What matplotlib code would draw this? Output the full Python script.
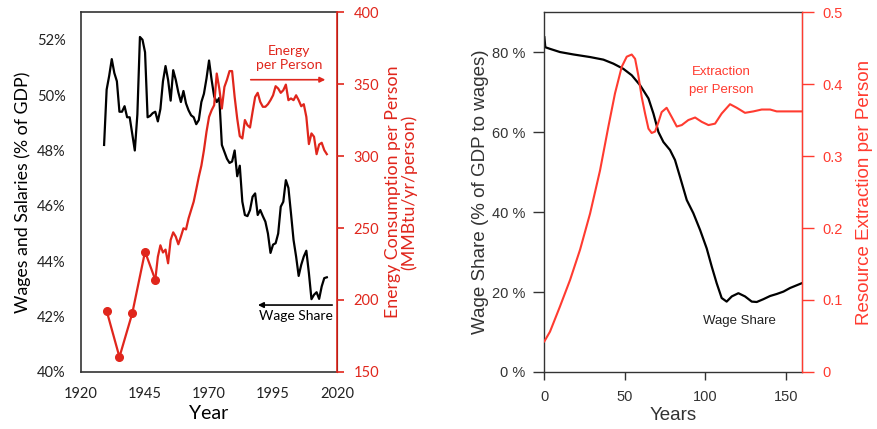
import matplotlib
matplotlib.use("Agg")
import matplotlib.pyplot as plt
from matplotlib.ticker import FuncFormatter

# --- historical panel: US wage share vs. energy use per person ---
years = list(range(1929, 2017))
wage_share = [
    48.2, 50.2, 50.7, 51.3, 50.8, 50.5, 49.4, 49.4, 49.6, 49.2,
    49.2, 48.6, 48.0, 49.3, 52.1, 52.0, 51.55, 49.2, 49.25, 49.35,
    49.4, 49.05, 49.5, 50.5, 51.05, 50.55, 49.8, 50.9, 50.55, 50.1,
    49.75, 50.15, 49.7, 49.45, 49.27, 49.2, 48.95, 49.1, 49.75, 50.05,
    50.6, 51.25, 50.55, 49.95, 49.75, 49.9, 48.2, 47.95, 47.7, 47.55,
    47.6, 48.0, 47.07, 47.45, 46.15, 45.67, 45.63, 45.85, 46.33, 46.45,
    45.67, 45.85, 45.63, 45.43, 45.0, 44.3, 44.6, 44.65, 45.0, 45.97,
    46.15, 46.93, 46.65, 45.73, 44.77, 44.17, 43.47, 43.87, 44.17, 44.38,
    43.57, 42.63, 42.79, 42.88, 42.64, 43.09, 43.39, 43.42,
]

# early estimates only every few years
energy_early_years = [1930, 1935, 1940, 1945, 1949]
energy_early = [192.5, 160.4, 190.7, 233.6, 214.0]

energy_years = list(range(1949, 2017))
energy = [
    214.0, 230.0, 238.0, 233.0, 235.0, 225.5, 241.7, 247.0, 244.0, 238.7,
    244.0, 249.8, 249.0, 256.7, 262.5, 268.3, 276.8, 285.6, 293.3, 304.0,
    316.8, 327.2, 331.8, 335.3, 357.3, 346.9, 333.0, 348.0, 353.0, 359.0,
    359.0, 341.0, 326.0, 313.8, 312.2, 325.0, 321.4, 319.8, 330.7, 341.0,
    343.9, 337.6, 334.2, 334.2, 336.0, 338.8, 342.2, 348.5, 346.9, 343.9,
    345.7, 349.6, 338.8, 340.0, 338.8, 342.2, 338.8, 334.6, 336.0, 327.2,
    308.3, 315.7, 313.4, 301.3, 308.0, 309.2, 304.1, 301.3,
]

# --- model panel: simulated wage share vs. resource extraction ---
model_t = [0, 0.6, 3.5, 9.7, 18, 28.4, 36.7, 42.9, 49.1, 54.3, 59.5, 64.7,
           67.8, 70.9, 74, 78.1, 81.2, 84.3, 88.5, 92.6, 96.8, 100.9, 104,
           107.1, 110.2, 113.3, 116.5, 120.6, 124.7, 128.9, 132, 136.1,
           140.3, 144.4, 148.6, 152.7, 160]
model_wage = [83.7, 81.2, 80.8, 80.0, 79.4, 78.75, 78.1, 77.1, 75.8, 74.2,
              71.7, 68.4, 64.6, 60.0, 57.5, 55.5, 53.0, 48.8, 43.0, 39.7,
              35.5, 30.9, 26.4, 22.2, 18.5, 17.6, 18.9, 19.7, 18.9, 17.6,
              17.5, 18.2, 19.0, 19.5, 20.1, 21.0, 22.2]

extract_t = [0, 3.5, 9.7, 16, 22.2, 28.4, 34.6, 39.8, 43.9, 48.1, 51.2,
             54.3, 56.4, 58.4, 60.5, 62.6, 64.7, 66.7, 68.8, 70.9, 72.9, 76,
             79.2, 82.3, 85.4, 89.5, 93.7, 97.8, 102, 106.1, 110.2, 115.4,
             119.6, 124.7, 129.9, 135.1, 140.3, 144.4, 150.6, 160]
extraction = [0.0425, 0.056, 0.091, 0.128, 0.170, 0.220, 0.280, 0.341,
              0.387, 0.424, 0.438, 0.441, 0.435, 0.412, 0.382, 0.359, 0.338,
              0.332, 0.334, 0.347, 0.361, 0.367, 0.354, 0.341, 0.343, 0.350,
              0.3535, 0.3475, 0.343, 0.345, 0.359, 0.372, 0.367, 0.360,
              0.362, 0.3646, 0.3646, 0.362, 0.362, 0.362]

RED = "#e0261c"
RED2 = "#ff3b30"
LEFT_FONT = "Lato"
RIGHT_FONT = "Liberation Sans"

fig = plt.figure(figsize=(8.78, 4.29), dpi=100)

# ---------------- left panel ----------------
ax1 = fig.add_axes([0.0923, 0.1329, 0.2916, 0.839])
ax1.plot(years, wage_share, color="black", lw=1.6)
ax1.set_xlim(1920, 2020)
ax1.set_ylim(40, 53)
ax1.set_xticks([1920, 1945, 1970, 1995, 2020])
ax1.set_yticks([40, 42, 44, 46, 48, 50, 52])
ax1.yaxis.set_major_formatter(FuncFormatter(lambda v, p: f"{v:.0f}%"))
ax1.tick_params(length=0, labelsize=10.5, colors="#222222")
ax1.tick_params(axis="x", pad=11)
ax1.tick_params(axis="y", pad=11)
for s in ["left", "top", "bottom"]:
    ax1.spines[s].set_color("#333333")
    ax1.spines[s].set_linewidth(1.2)
ax1.set_xlabel("Year", fontsize=14, family=LEFT_FONT, labelpad=3)
ax1.set_ylabel("Wages and Salaries (% of GDP)", fontsize=12.8, family=LEFT_FONT, labelpad=4)
for lab in ax1.get_xticklabels() + ax1.get_yticklabels():
    lab.set_family(LEFT_FONT)

ax1r = ax1.twinx()
ax1r.plot(energy_early_years, energy_early, color=RED, lw=1.6, marker="o", ms=5.5)
ax1r.plot(energy_years, energy, color=RED, lw=1.6)
ax1r.set_ylim(150, 400)
ax1r.set_yticks([150, 200, 250, 300, 350, 400])
ax1r.spines["right"].set_color(RED)
ax1r.spines["right"].set_linewidth(1.2)
for s in ["left", "top", "bottom"]:
    ax1r.spines[s].set_visible(False)
ax1r.tick_params(axis="y", colors=RED, length=5, width=1.2, labelsize=10.5, pad=7)
for lab in ax1r.get_yticklabels():
    lab.set_family(LEFT_FONT)
ax1r.set_ylabel("Energy Consumption per Person\n(MMBtu/yr/person)", color=RED,
                fontsize=12.8, family=LEFT_FONT, labelpad=4, linespacing=1.0)

ax1r.text(2001.3, 368, "Energy\nper Person", color=RED, ha="center", va="center",
          fontsize=10, family=LEFT_FONT, linespacing=1.2)
ax1r.annotate("", xy=(2016.5, 353), xytext=(1985.2, 353),
              arrowprops=dict(arrowstyle="-|>", color=RED, lw=1.2, mutation_scale=8))
ax1r.text(2004, 189, "Wage Share", color="black", ha="center", va="center",
          fontsize=10, family=LEFT_FONT)
ax1r.annotate("", xy=(1988, 196.5), xytext=(2019.2, 196.5),
              arrowprops=dict(arrowstyle="-|>", color="black", lw=1.2, mutation_scale=8))

# ---------------- right panel ----------------
ax2 = fig.add_axes([0.620, 0.1329, 0.2932, 0.839])
ax2.plot(model_t, model_wage, color="black", lw=1.6)
ax2.set_xlim(0, 160)
ax2.set_ylim(0, 90)
ax2.set_xticks([0, 50, 100, 150])
ax2.set_yticks([0, 20, 40, 60, 80])
ax2.yaxis.set_major_formatter(FuncFormatter(lambda v, p: f"{v:.0f} %"))
ax2.tick_params(axis="both", width=1.0, labelsize=10.5, colors="#333333")
ax2.tick_params(axis="y", length=8, pad=6)
ax2.tick_params(axis="x", length=6, pad=7)
for s in ["left", "top", "bottom"]:
    ax2.spines[s].set_color("#333333")
    ax2.spines[s].set_linewidth(1.0)
ax2.set_xlabel("Years", fontsize=13.5, family=RIGHT_FONT, color="#333333", labelpad=2)
ax2.set_ylabel("Wage Share (% of GDP to wages)", fontsize=13.5, family=RIGHT_FONT,
               color="#333333", labelpad=2)
for lab in ax2.get_xticklabels() + ax2.get_yticklabels():
    lab.set_family(RIGHT_FONT)

ax2r = ax2.twinx()
ax2r.plot(extract_t, extraction, color=RED2, lw=1.5)
ax2r.set_ylim(0, 0.5)
ax2r.set_yticks([0, 0.1, 0.2, 0.3, 0.4, 0.5])
ax2r.yaxis.set_major_formatter(FuncFormatter(lambda v, p: "0" if v == 0 else f"{v:.1f}"))
ax2r.spines["right"].set_color(RED2)
ax2r.spines["right"].set_linewidth(1.0)
for s in ["left", "top", "bottom"]:
    ax2r.spines[s].set_visible(False)
ax2r.tick_params(axis="y", colors=RED2, length=8.5, width=1.0, labelsize=10.5, pad=6)
for lab in ax2r.get_yticklabels():
    lab.set_family(RIGHT_FONT)
ax2r.set_ylabel("Resource Extraction per Person", color=RED2, fontsize=13.5,
                family=RIGHT_FONT, labelpad=10)

ax2r.text(109.8, 0.404, "Extraction\nper Person", color=RED2, ha="center", va="center",
          fontsize=9.5, family=RIGHT_FONT, linespacing=1.6)
ax2.text(121, 12.8, "Wage Share", color="#222222", ha="center", va="center",
         fontsize=9.5, family=RIGHT_FONT)

fig.savefig("out.png", dpi=100)
